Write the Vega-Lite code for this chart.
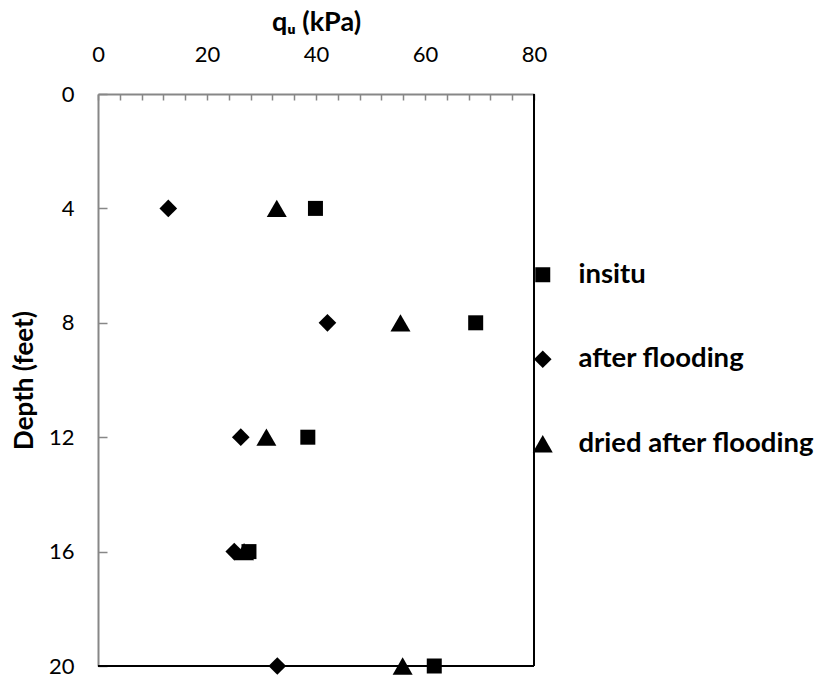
{
  "$schema": "https://vega.github.io/schema/vega-lite/v6.json",
  "width": 436,
  "height": 572,
  "autosize": "none",
  "padding": {"left": 98, "top": 94, "right": 288, "bottom": 15},
  "background": "white",
  "config": {
    "view": {"stroke": null},
    "font": "Lato",
    "axis": {"grid": false, "labelColor": "black", "titleColor": "black", "domainColor": "#878787", "tickColor": "#878787", "domainWidth": 2, "tickWidth": 1.5, "labelFont": "Lato", "titleFont": "Lato", "labelOverlap": false}
  },
  "encoding": {
    "x": {
      "field": "qu", "type": "quantitative",
      "scale": {"domain": [0, 80], "nice": false},
      "axis": {
        "orient": "top",
        "values": [0, 4, 8, 12, 16, 20, 24, 28, 32, 36, 40, 44, 48, 52, 56, 60, 64, 68, 72, 76, 80],
        "labelExpr": "datum.value % 20 == 0 ? datum.label : ''",
        "labelOverlap": false,
        "labelFlush": false,
        "tickSize": -6,
        "labelPadding": 34,
        "labelFontSize": 22,
        "title": "qᵤ (kPa)",
        "titleFontSize": 27,
        "titleFontWeight": "bold",
        "titlePadding": 7
      }
    },
    "y": {
      "field": "depth", "type": "quantitative",
      "scale": {"domain": [0, 20], "reverse": true, "nice": false},
      "axis": {
        "values": [0, 4, 8, 12, 16, 20],
        "tickSize": -9,
        "labelPadding": 33,
        "labelFontSize": 22,
        "labelFlush": false,
        "title": "Depth (feet)",
        "titleFontSize": 26,
        "titleFontWeight": "bold",
        "titlePadding": 11
      }
    }
  },
  "layer": [
    {
      "data": {"values": [
        {"qu": 0, "qu2": 80, "depth": 20, "depth2": 20},
        {"qu": 80, "qu2": 80, "depth": 0, "depth2": 20}
      ]},
      "mark": {"type": "rule", "color": "black", "strokeWidth": 2},
      "encoding": {
        "x2": {"field": "qu2"},
        "y2": {"field": "depth2"}
      }
    },
    {
      "data": {"values": [
        {"series": "dried after flooding", "depth": 4, "qu": 32.8},
        {"series": "dried after flooding", "depth": 8, "qu": 55.5},
        {"series": "dried after flooding", "depth": 12, "qu": 30.9},
        {"series": "dried after flooding", "depth": 16, "qu": 26.8},
        {"series": "dried after flooding", "depth": 20, "qu": 55.9},
        {"series": "after flooding", "depth": 4, "qu": 12.9},
        {"series": "after flooding", "depth": 8, "qu": 42.1},
        {"series": "after flooding", "depth": 12, "qu": 26.2},
        {"series": "after flooding", "depth": 16, "qu": 25.0},
        {"series": "after flooding", "depth": 20, "qu": 32.9},
        {"series": "insitu", "depth": 4, "qu": 39.9},
        {"series": "insitu", "depth": 8, "qu": 69.3},
        {"series": "insitu", "depth": 12, "qu": 38.5},
        {"series": "insitu", "depth": 16, "qu": 27.7},
        {"series": "insitu", "depth": 20, "qu": 61.7}
      ]},
      "mark": {"type": "point", "filled": true, "color": "black", "opacity": 1, "strokeWidth": 0},
      "encoding": {
        "shape": {
          "field": "series", "type": "nominal",
          "scale": {"domain": ["insitu", "after flooding", "dried after flooding"], "range": ["square", "diamond", "triangle-up"]},
          "legend": {
            "title": null,
            "orient": "none",
            "legendX": 431,
            "legendY": 167,
            "padding": 0,
            "symbolFillColor": "black",
            "symbolStrokeWidth": 0,
            "labelFontSize": 27.5,
            "labelFontWeight": "bold",
            "labelColor": "black",
            "labelOffset": 22,
            "rowPadding": 55.5,
            "labelLimit": 400
          }
        },
        "size": {
          "field": "series", "type": "nominal",
          "scale": {"domain": ["insitu", "after flooding", "dried after flooding"], "range": [225, 400, 324]}
        }
      }
    }
  ]
}
